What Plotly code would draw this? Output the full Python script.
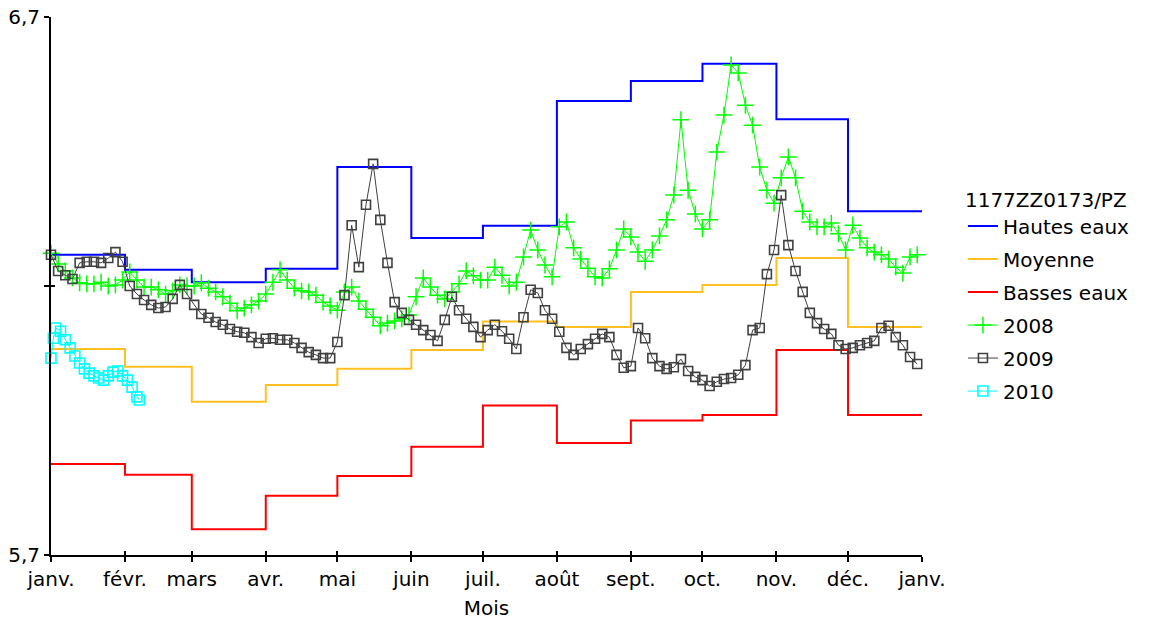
import pandas as pd
import plotly.graph_objects as go

# Month axis (values are plotted on a common calendar year)
month_labels = ["janv.", "févr.", "mars", "avr.", "mai", "juin", "juil.",
                "août", "sept.", "oct.", "nov.", "déc.", "janv."]
month_starts = pd.date_range("2009-01-01", "2010-01-01", freq="MS")

# Monthly reference levels (m)
hautes_eaux = [6.258, 6.230, 6.207, 6.232, 6.421, 6.289, 6.312, 6.544, 6.581, 6.613, 6.510, 6.339]
moyenne = [6.083, 6.050, 5.985, 6.016, 6.046, 6.081, 6.134, 6.124, 6.189, 6.202, 6.252, 6.124]
basses_eaux = [5.869, 5.849, 5.748, 5.810, 5.847, 5.901, 5.978, 5.908, 5.950, 5.960, 6.081, 5.960]

# Yearly piezometric levels, day of year -> level (m)
days_2008 = list(range(0, 364, 3))
level_2008 = [
    6.261, 6.241, 6.228, 6.215, 6.206, 6.204, 6.204, 6.207, 6.200, 6.202,
    6.211, 6.226, 6.211, 6.198, 6.198, 6.193, 6.185, 6.191, 6.202, 6.200,
    6.200, 6.206, 6.196, 6.189, 6.180, 6.168, 6.154, 6.159, 6.165, 6.172,
    6.185, 6.207, 6.230, 6.211, 6.196, 6.191, 6.189, 6.183, 6.170, 6.163,
    6.155, 6.189, 6.198, 6.172, 6.157, 6.142, 6.126, 6.131, 6.135, 6.139,
    6.146, 6.180, 6.215, 6.198, 6.183, 6.176, 6.189, 6.204, 6.228, 6.219,
    6.211, 6.211, 6.235, 6.220, 6.200, 6.207, 6.254, 6.304, 6.267, 6.239,
    6.217, 6.310, 6.319, 6.271, 6.250, 6.233, 6.217, 6.215, 6.232, 6.267,
    6.306, 6.291, 6.263, 6.246, 6.267, 6.293, 6.323, 6.369, 6.509, 6.378,
    6.334, 6.306, 6.323, 6.449, 6.518, 6.611, 6.596, 6.536, 6.499, 6.421,
    6.378, 6.354, 6.401, 6.440, 6.401, 6.339, 6.319, 6.310, 6.310, 6.317,
    6.297, 6.267, 6.313, 6.289, 6.271, 6.263, 6.258, 6.250, 6.235, 6.224,
    6.254, 6.258,
]

days_2009 = list(range(0, 364, 3))
level_2009 = [
    6.258, 6.228, 6.220, 6.213, 6.243, 6.245, 6.245, 6.243, 6.252, 6.263,
    6.245, 6.200, 6.185, 6.174, 6.165, 6.159, 6.161, 6.176, 6.202, 6.185,
    6.165, 6.148, 6.141, 6.133, 6.128, 6.120, 6.115, 6.113, 6.105, 6.094,
    6.102, 6.103, 6.100, 6.100, 6.094, 6.085, 6.077, 6.072, 6.066, 6.066,
    6.096, 6.183, 6.313, 6.235, 6.351, 6.427, 6.323, 6.243, 6.170, 6.150,
    6.137, 6.128, 6.118, 6.109, 6.098, 6.137, 6.180, 6.155, 6.139, 6.124,
    6.105, 6.118, 6.128, 6.116, 6.102, 6.083, 6.142, 6.193, 6.187, 6.155,
    6.139, 6.115, 6.085, 6.072, 6.083, 6.092, 6.102, 6.111, 6.105, 6.072,
    6.048, 6.051, 6.122, 6.103, 6.066, 6.051, 6.046, 6.049, 6.064, 6.042,
    6.031, 6.025, 6.014, 6.022, 6.027, 6.029, 6.035, 6.053, 6.118, 6.122,
    6.222, 6.267, 6.369, 6.276, 6.228, 6.189, 6.150, 6.131, 6.120, 6.111,
    6.090, 6.083, 6.085, 6.090, 6.094, 6.098, 6.122, 6.126, 6.105, 6.090,
    6.068, 6.055,
]

days_2010 = [0, 1, 2, 4, 6, 8, 10, 12, 14, 16, 18, 20, 22, 24, 26, 28, 30, 32, 34, 36, 37]
level_2010 = [
    6.066, 6.103, 6.122, 6.116, 6.100, 6.085, 6.070, 6.057, 6.046, 6.038,
    6.033, 6.029, 6.025, 6.033, 6.040, 6.042, 6.033, 6.025, 6.012, 5.994,
    5.988,
]

y_ticks = [5.7, 6.2, 6.7]
y_tick_labels = ["5,7", "", "6,7"]

FONT = "DejaVu Sans"
base_day = pd.Timestamp("2009-01-01")


def to_dates(days):
    return [base_day + pd.Timedelta(days=d) for d in days]


fig = go.Figure()

# Monthly reference levels as step lines
for name, values, color in [
    ("Hautes eaux", hautes_eaux, "#0000FF"),
    ("Moyenne", moyenne, "#FFC020"),
    ("Basses eaux", basses_eaux, "#FF0000"),
]:
    fig.add_trace(go.Scatter(
        x=list(month_starts), y=values + values[-1:],
        mode="lines", name=name, legendgroup=name,
        line=dict(color=color, width=2, shape="hv"),
    ))

# Observed yearly series
fig.add_trace(go.Scatter(
    x=to_dates(days_2008), y=level_2008, mode="lines+markers", name="2008",
    legendgroup="2008", cliponaxis=False,
    line=dict(color="#00FF00", width=1),
    marker=dict(symbol="cross-thin", size=12, color="#00FF00",
                line=dict(color="#00FF00", width=1.5)),
))
fig.add_trace(go.Scatter(
    x=to_dates(days_2009), y=level_2009, mode="lines+markers", name="2009",
    legendgroup="2009", cliponaxis=False,
    line=dict(color="#404040", width=1),
    marker=dict(symbol="square-open", size=9, color="#404040",
                line=dict(width=1.6)),
))
fig.add_trace(go.Scatter(
    x=to_dates(days_2010), y=level_2010, mode="lines+markers", name="2010",
    legendgroup="2010", cliponaxis=False,
    line=dict(color="#00FFFF", width=1),
    marker=dict(symbol="square-open", size=10, color="#00FFFF",
                line=dict(width=1.6)),
))

# Empty trace bound to the overlay axes so their inner tick marks get drawn
fig.add_trace(go.Scatter(
    x=[None], y=[None], xaxis="x2", yaxis="y2", mode="lines",
    showlegend=False, hoverinfo="skip",
))

axis_common = dict(
    showline=True, linecolor="black", linewidth=2,
    ticks="outside", ticklen=5, tickwidth=1.5, tickcolor="black",
    showgrid=False, zeroline=False, automargin=False,
    tickfont=dict(family=FONT, size=20, color="black"),
)

# Inner half of each tick mark, so ticks cross the axis lines
inner_ticks = dict(
    ticks="inside", ticklen=4, tickwidth=1.5, tickcolor="black",
    showticklabels=False, showline=False, showgrid=False, zeroline=False,
    automargin=False,
)

fig.update_layout(
    width=1161, height=620,
    margin=dict(l=51, r=239, t=17, b=65, autoexpand=False),
    paper_bgcolor="white", plot_bgcolor="white",
    font=dict(family=FONT, size=20, color="black"),
    xaxis=dict(
        type="date",
        range=[month_starts[0], month_starts[-1]],
        tickmode="array", tickvals=list(month_starts), ticktext=month_labels,
        title=dict(text="Mois", font=dict(family=FONT, size=20)),
        **axis_common,
    ),
    yaxis=dict(
        range=[5.7, 6.7],
        tickmode="array", tickvals=y_ticks, ticktext=y_tick_labels,
        **axis_common,
    ),
    xaxis2=dict(
        type="date", overlaying="x", anchor="y2", side="bottom",
        range=[month_starts[0], month_starts[-1]],
        tickmode="array", tickvals=list(month_starts),
        **inner_ticks,
    ),
    yaxis2=dict(
        overlaying="y", anchor="x2", side="left",
        range=[5.7, 6.7], tickmode="array", tickvals=y_ticks,
        **inner_ticks,
    ),
    legend=dict(
        title=dict(text="1177ZZ0173/PZ", font=dict(family=FONT, size=20)),
        font=dict(family=FONT, size=20, color="black"),
        x=1.047, xanchor="left", y=0.696, yanchor="top",
        bgcolor="rgba(0,0,0,0)", tracegroupgap=4,
    ),
    showlegend=True,
)

fig.write_html("out.html")
